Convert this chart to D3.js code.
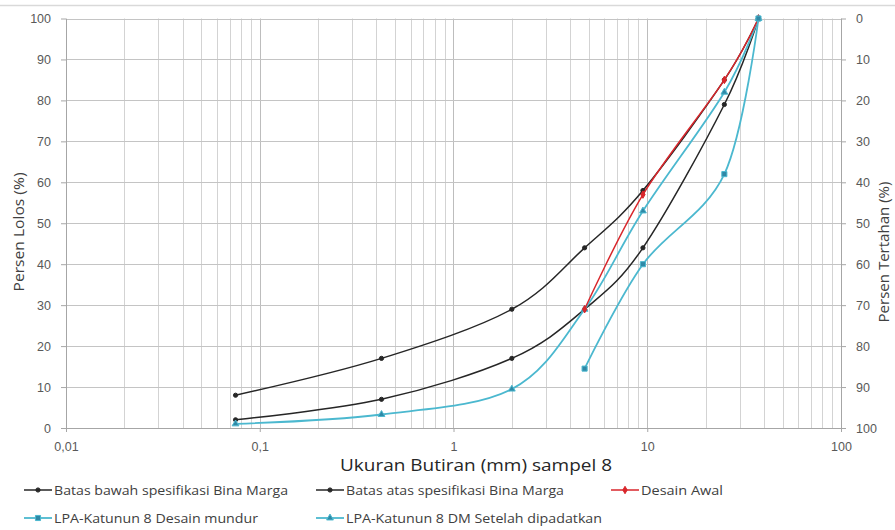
<!DOCTYPE html>
<html>
<head>
<meta charset="utf-8">
<script src="https://cdn.jsdelivr.net/npm/d3@7"></script>
<style>
  html, body { margin: 0; padding: 0; background: #fff; }
  svg { display: block; font-family: "Open Sans", "DejaVu Sans", sans-serif; }
</style>
</head>
<body>
<svg id="chart" width="895" height="530"></svg>
<script>
// Sieve sizes (mm) and percent passing for each gradation curve
const sieveSpec = [0.075, 0.425, 2.0, 4.75, 9.5, 25, 37.5];
const batasBawah = [8, 17, 29, 44, 58, 85, 100];
const batasAtas = [2, 7, 17, 29, 44, 79, 100];
const sieveAwal = [4.75, 9.5, 25, 37.5];
const desainAwal = [29, 57, 85, 100];
const sieveMundur = [4.75, 9.5, 25, 37.5];
const desainMundur = [14.5, 40, 62, 100];
const sieveDipadatkan = [0.075, 0.425, 2.0, 4.75, 9.5, 25, 37.5];
const setelahDipadatkan = [1, 3.3, 9.5, 29, 53, 82, 100];

const xTickValues = [0.01, 0.1, 1, 10, 100];
const xTickLabels = ["0,01", "0,1", "1", "10", "100"];
const yTickValues = [0, 10, 20, 30, 40, 50, 60, 70, 80, 90, 100];

const seriesNames = [
  "Batas bawah spesifikasi Bina Marga",
  "Batas atas spesifikasi Bina Marga",
  "Desain Awal",
  "LPA-Katunun 8 Desain mundur",
  "LPA-Katunun 8 DM Setelah dipadatkan"
];

const svg = d3.select("#chart");
const L = 66, R = 841, T = 18.5, B = 428;

const x = d3.scaleLog().domain([0.01, 100]).range([L, R]);
const y = d3.scaleLinear().domain([0, 100]).range([B, T]);
const yR = d3.scaleLinear().domain([0, 100]).range([T, B]);

// thin frame line along the top of the chart
svg.append("line").attr("x1", 0).attr("x2", 895).attr("y1", 5.5).attr("y2", 5.5)
  .attr("stroke", "#d9d9d9").attr("stroke-width", 1.5);

// gridlines
const grid = svg.append("g");
grid.selectAll("line.v").data(x.ticks()).join("line")
  .attr("x1", d => Math.round(x(d)) + 0.5).attr("x2", d => Math.round(x(d)) + 0.5)
  .attr("y1", T).attr("y2", B)
  .attr("stroke", d => xTickValues.includes(d) ? "#bdbdbd" : "#d3d3d3")
  .attr("stroke-width", 1);
grid.selectAll("line.h").data(yTickValues).join("line")
  .attr("x1", L).attr("x2", R)
  .attr("y1", d => Math.round(y(d)) + 0.5).attr("y2", d => Math.round(y(d)) + 0.5)
  .attr("stroke", "#c4c4c4").attr("stroke-width", 1);

// axes
function styleAxis(g) {
  g.select(".domain").attr("stroke", "#a6a6a6");
  g.selectAll(".tick line").attr("stroke", "#a6a6a6");
  g.selectAll(".tick text").attr("fill", "#595959").attr("font-size", 12.5);
}
svg.append("g").attr("transform", `translate(${L},0)`)
  .call(d3.axisLeft(y).tickValues(yTickValues).tickSize(5).tickPadding(10).tickSizeOuter(0))
  .call(styleAxis);
svg.append("g").attr("transform", `translate(${R},0)`)
  .call(d3.axisRight(yR).tickValues(yTickValues).tickSize(5).tickPadding(10).tickSizeOuter(0))
  .call(styleAxis);
svg.append("g").attr("transform", `translate(0,${B})`)
  .call(d3.axisBottom(x).tickValues(xTickValues)
    .tickFormat((d, i) => xTickLabels[i]).tickSize(4).tickPadding(10).tickSizeOuter(0))
  .call(styleAxis);

// axis titles
svg.append("text").attr("x", 476).attr("y", 471).attr("text-anchor", "middle")
  .attr("font-size", 16.5).attr("fill", "#262626")
  .attr("textLength", 272).attr("lengthAdjust", "spacingAndGlyphs")
  .text("Ukuran Butiran (mm) sampel 8");
svg.append("text").attr("transform", "translate(24,232) rotate(-90)")
  .attr("text-anchor", "middle").attr("font-size", 14.5).attr("fill", "#404040")
  .attr("textLength", 119).attr("lengthAdjust", "spacingAndGlyphs")
  .text("Persen Lolos (%)");
svg.append("text").attr("transform", "translate(889,252) rotate(-90)")
  .attr("text-anchor", "middle").attr("font-size", 14.5).attr("fill", "#404040")
  .attr("textLength", 141).attr("lengthAdjust", "spacingAndGlyphs")
  .text("Persen Tertahan (%)");

// series definitions
const black = "#262626", red = "#d9262b", cyan = "#4bb8cf", teal = "#2f88a6";
const series = [
  { name: seriesNames[0], xs: sieveSpec, ys: batasBawah, color: black, width: 1.5,
    symbol: d3.symbolCircle, size: 14, fill: black, stroke: black },
  { name: seriesNames[1], xs: sieveSpec, ys: batasAtas, color: black, width: 1.5,
    symbol: d3.symbolCircle, size: 14, fill: black, stroke: black },
  { name: seriesNames[2], xs: sieveAwal, ys: desainAwal, color: red, width: 1.5,
    symbol: d3.symbolDiamond, size: 16, fill: red, stroke: red },
  { name: seriesNames[3], xs: sieveMundur, ys: desainMundur, color: cyan, width: 1.8,
    symbol: d3.symbolSquare, size: 26, fill: teal, stroke: cyan },
  { name: seriesNames[4], xs: sieveDipadatkan, ys: setelahDipadatkan, color: cyan, width: 1.8,
    symbol: d3.symbolTriangle, size: 20, fill: teal, stroke: cyan }
];

const line = d3.line().x(d => x(d[0])).y(d => y(d[1])).curve(d3.curveCardinal.tension(0));
const plot = svg.append("g");
// specification limits first, design curves on top
[0, 1, 4, 2, 3].forEach(i => {
  const s = series[i];
  const pts = s.xs.map((v, j) => [v, s.ys[j]]);
  plot.append("path").datum(pts).attr("d", line)
    .attr("fill", "none").attr("stroke", s.color).attr("stroke-width", s.width);
  plot.selectAll(null).data(pts).join("path")
    .attr("transform", d => `translate(${x(d[0])},${y(d[1])})`)
    .attr("d", d3.symbol(s.symbol, s.size))
    .attr("fill", s.fill).attr("stroke", s.stroke).attr("stroke-width", 1);
});

// legend
const legendPos = [
  { lx: 24, ty: 490, w: 234 },
  { lx: 316, ty: 490, w: 218 },
  { lx: 611, ty: 490, w: 82 },
  { lx: 24, ty: 518, w: 204 },
  { lx: 316, ty: 518, w: 256 }
];
series.forEach((s, i) => {
  const p = legendPos[i];
  const g = svg.append("g");
  g.append("line").attr("x1", p.lx).attr("x2", p.lx + 28).attr("y1", p.ty).attr("y2", p.ty)
    .attr("stroke", s.color).attr("stroke-width", s.width);
  g.append("path").attr("transform", `translate(${p.lx + 14},${p.ty})`)
    .attr("d", d3.symbol(s.symbol, s.size)).attr("fill", s.fill)
    .attr("stroke", s.stroke).attr("stroke-width", 1);
  g.append("text").attr("x", p.lx + 30).attr("y", p.ty + 4.5)
    .attr("font-size", 13).attr("fill", "#404040")
    .attr("textLength", p.w).attr("lengthAdjust", "spacingAndGlyphs")
    .text(s.name);
});
</script>
</body>
</html>
